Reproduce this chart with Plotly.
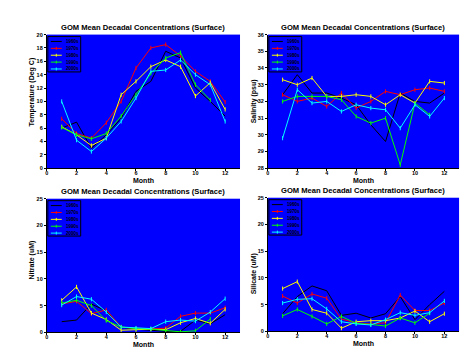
import plotly.graph_objects as go

# ---------------- data ----------------
months = [1, 2, 3, 4, 5, 6, 7, 8, 9, 10, 11, 12]
decades = ["1960s", "1970s", "1980s", "1990s", "2000s"]
colors = ["#000000", "#FF0000", "#FFFF00", "#00FF00", "#00FFFF"]

temp_1960s = [6.0, 6.9, 3.0, 5.0, 7.5, 11.5, 13.0, 17.5, 16.5, 12.0, 10.0, 7.8]
temp_1970s = [7.4, 5.2, 4.5, 6.8, 10.0, 15.0, 18.0, 18.5, 16.8, 14.5, 13.0, 9.9]
temp_1980s = [6.2, 5.0, 3.4, 4.5, 11.0, 13.0, 15.2, 16.2, 15.2, 10.8, 12.8, 8.8]
temp_1990s = [6.1, 5.0, 4.4, 5.2, 7.8, 11.0, 14.2, 16.5, 17.3, 12.5, 10.2, None]
temp_2000s = [10.0, 4.2, 2.5, 4.5, 7.0, 10.5, 14.5, 14.7, 16.2, 14.0, 12.5, 7.0]

sal_1960s = [32.4, 33.6, 32.5, 32.5, 32.2, 31.8, 30.6, 29.6, 32.5, 32.0, 31.9, 32.5]
sal_1970s = [32.4, 32.0, 32.2, 31.7, 32.5, 31.6, 32.0, 32.6, 32.4, 32.7, 32.8, 32.6]
sal_1980s = [33.3, 33.0, 33.4, 32.3, 32.3, 32.4, 32.3, 31.8, 32.4, 31.9, 33.2, 33.1]
sal_1990s = [32.0, 32.3, 32.3, 32.3, 32.1, 31.1, 30.7, 31.0, 28.2, 31.9, 31.2, None]
sal_2000s = [29.8, 32.7, 31.9, 32.0, 31.4, 31.8, 31.6, 31.5, 30.4, 31.8, 31.1, 32.2]

nit_1960s = [2.0, 2.3, 5.3, 4.0, 1.0, 0.6, 0.4, 0.2, 0.2, 2.3, 1.6, 3.3]
nit_1970s = [5.3, 5.8, 3.5, 4.2, 1.0, 0.7, 0.6, 0.8, 3.0, 3.6, 3.6, 4.6]
nit_1980s = [6.0, 8.5, 3.6, 2.4, 0.4, 0.5, 0.6, 0.5, 1.8, 2.6, 1.7, 4.3]
nit_1990s = [5.5, 6.0, 5.0, 2.2, 1.0, 0.7, 0.6, 0.3, 0.1, 0.3, 2.5, None]
nit_2000s = [5.1, 6.7, 6.2, 3.8, 1.0, 0.8, 0.7, 2.0, 2.3, 2.1, 3.8, 6.3]

sil_1960s = [3.3, 6.5, 8.5, 7.6, 3.0, 3.4, 2.5, 3.3, 6.5, 2.2, 5.0, 7.5]
sil_1970s = [6.6, 5.3, 7.0, 6.2, 2.3, 1.6, 1.4, 1.6, 6.8, 3.9, 3.9, 5.3]
sil_1980s = [8.0, 9.3, 4.1, 3.4, 0.6, 1.8, 2.0, 2.0, 2.5, 3.8, 1.8, 3.3]
sil_1990s = [2.9, 4.1, 2.8, 1.4, 2.8, 1.5, 1.3, 1.0, 2.5, 1.6, 3.4, None]
sil_2000s = [5.3, 6.0, 6.1, 4.2, 1.8, 1.4, 1.2, 2.2, 3.5, 3.0, 3.5, 5.7]

title_text = "GOM Mean Decadal Concentrations (Surface)"
x_title = "Month"
panels = [
    ("Temperature (Deg C)", [temp_1960s, temp_1970s, temp_1980s, temp_1990s, temp_2000s],
     [0, 20], [0, 2, 4, 6, 8, 10, 12, 14, 16, 18, 20]),
    ("Salinity (psu)", [sal_1960s, sal_1970s, sal_1980s, sal_1990s, sal_2000s],
     [28, 36], [28, 29, 30, 31, 32, 33, 34, 35, 36]),
    ("Nitrate (uM)", [nit_1960s, nit_1970s, nit_1980s, nit_1990s, nit_2000s],
     [0, 25], [0, 5, 10, 15, 20, 25]),
    ("Silicate (uM)", [sil_1960s, sil_1970s, sil_1980s, sil_1990s, sil_2000s],
     [0, 25], [0, 5, 10, 15, 20, 25]),
]
x_ticks = [0, 2, 4, 6, 8, 10, 12]

# ---------------- layout geometry (window pixels; page body has an 8px margin) ----------------
OFF = 8
W, H = 475 - OFF, 356 - OFF
boxes = [(45, 239, 32, 168), (267, 459, 32, 168), (45, 239, 199, 335), (267, 459, 198, 334)]
ytitle_pos = [(30, 90), (253, 100), (30, 261), (253, 275)]
FONT = "Liberation Sans"


def px(xw):
    return (xw - OFF) / W


def py(yw):
    return 1 - (yw - OFF) / H


fig = go.Figure()
annotations = []
shapes = []
layout = dict(
    width=W, height=H, margin=dict(l=0, r=0, t=0, b=0),
    paper_bgcolor="white", plot_bgcolor="#0000FF", showlegend=False,
    font=dict(family=FONT, color="black", size=6, weight="bold"),
)

for i, (ylab, series, yr, yt) in enumerate(panels):
    n = "" if i == 0 else str(i + 1)
    x0, x1, y0, y1 = boxes[i]
    for k, (d, vals, c) in enumerate(zip(decades, series, colors)):
        fig.add_trace(go.Scatter(
            x=months, y=vals, name=d, mode="lines" if k == 0 else "lines+markers",
            line=dict(color=c, width=1),
            marker=dict(symbol="line-ns", size=3, line=dict(color=c, width=1)),
            xaxis="x" + n, yaxis="y" + n, connectgaps=False,
        ))
    layout["xaxis" + n] = dict(
        domain=[px(x0), px(x1)], anchor="y" + n, range=[0, 13], tickvals=x_ticks,
        showgrid=False, zeroline=False, showline=True, linecolor="black", linewidth=1,
        ticks="outside", ticklen=2, tickcolor="black", ticklabelstandoff=-3,
        tickfont=dict(size=5.5, family=FONT, weight="bold"),
    )
    layout["yaxis" + n] = dict(
        domain=[py(y1), py(y0)], anchor="x" + n, range=yr, tickvals=yt,
        showgrid=False, zeroline=False, showline=True, linecolor="black", linewidth=1,
        ticks="outside", ticklen=2, tickcolor="black",
        tickfont=dict(size=5.5, family=FONT, weight="bold"),
    )
    # panel title
    annotations.append(dict(
        text=title_text, x=px((x0 + x1) / 2), y=py(y0 - 7), xref="paper", yref="paper",
        showarrow=False, xanchor="center", yanchor="middle",
        font=dict(size=7.6, family=FONT, color="black", weight="bold"),
    ))
    # x-axis title
    annotations.append(dict(
        text=x_title, x=px((x0 + x1) / 2), y=py(y1 + 12.5), xref="paper", yref="paper",
        showarrow=False, xanchor="center", yanchor="middle",
        font=dict(size=7, family=FONT, color="black", weight="bold"),
    ))
    # y-axis title
    tx, ty = ytitle_pos[i]
    annotations.append(dict(
        text=ylab, x=px(tx), y=py(ty), xref="paper", yref="paper", textangle=-90,
        showarrow=False, xanchor="center", yanchor="middle",
        font=dict(size=7, family=FONT, color="black", weight="bold"),
    ))
    # legend box (drawn in the top-left corner of the plot area)
    lx0, lx1, ly0, ly1 = x0 + 1, x0 + 34, y0 + 2, y0 + 38
    shapes.append(dict(type="rect", xref="paper", yref="paper",
                       x0=px(lx0), x1=px(lx1), y0=py(ly1), y1=py(ly0),
                       line=dict(color="black", width=1), fillcolor="#0000FF", layer="above"))
    for k, (d, c) in enumerate(zip(decades, colors)):
        yy = ly0 + 5 + k * 7
        shapes.append(dict(type="line", xref="paper", yref="paper",
                           x0=px(lx0 + 3), x1=px(lx0 + 14), y0=py(yy), y1=py(yy),
                           line=dict(color=c, width=1), layer="above"))
        if k > 0:
            shapes.append(dict(type="line", xref="paper", yref="paper",
                               x0=px(lx0 + 8.5), x1=px(lx0 + 8.5), y0=py(yy - 1.5), y1=py(yy + 1.5),
                               line=dict(color=c, width=1), layer="above"))
        annotations.append(dict(
            text=d, x=px(lx0 + 16), y=py(yy), xref="paper", yref="paper",
            showarrow=False, xanchor="left", yanchor="middle",
            font=dict(size=4.5, family=FONT, color="black", weight="bold"),
        ))

layout["annotations"] = annotations
layout["shapes"] = shapes
fig.update_layout(**layout)
fig.write_html("out.html")
